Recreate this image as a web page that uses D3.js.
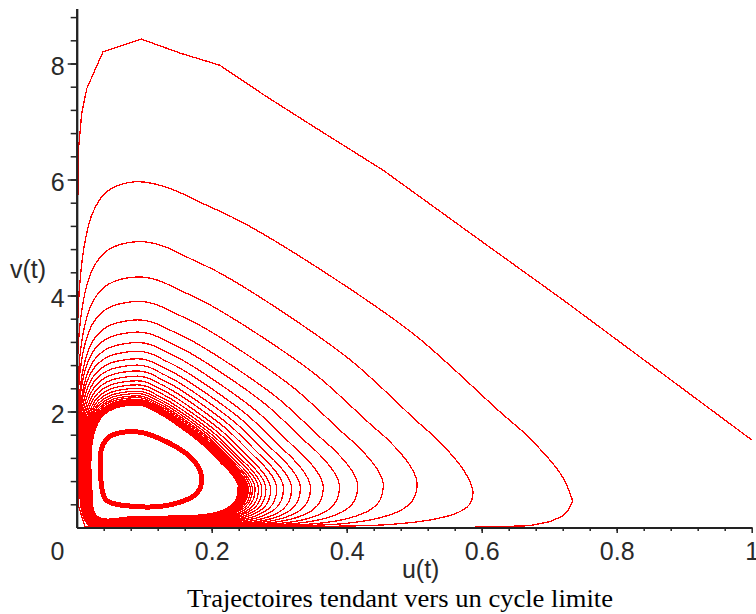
<!DOCTYPE html>
<html lang="fr">
<head>
<meta charset="UTF-8">
<title>Trajectoires tendant vers un cycle limite</title>
<script src="https://d3js.org/d3.v7.min.js"></script>
<style>
    body{ margin:0; background:#fff; }
    svg{ display:block; }
    .tick text, .lbl{
        font-family: 'Liberation Sans', Arial, sans-serif;
        font-size: 25px;
        fill: #2a2a2a;
    }
    .title{
        font-family: 'Liberation Serif', 'Times New Roman', serif;
        font-size: 26px;
        fill: #000;
    }
    .traj{ fill:none; stroke:#ff0000; shape-rendering:crispEdges; }
</style>
</head>
<body>
<svg width="756" height="614"></svg>
<script>
    const W = 756;

    // axis ticks and labels
    const xMajor = [0.2, 0.4, 0.6, 0.8, 1];
    const yMajor = [2, 4, 6, 8];
    const originLabel = "0";
    const xTitle = "u(t)", yTitle = "v(t)";
    const caption = "Trajectoires tendant vers un cycle limite";

    // first turn of the outer trajectory, [u, v] read point by point
    const turn1 = [[1.0,1.51],[0.86,2.72],[0.721,3.92],[0.58,5.10],[0.454,6.16],[0.35,6.92],
        [0.281,7.43],[0.212,7.97],[0.153,8.18],[0.096,8.42],[0.039,8.20],[0.015,7.57],
        [0.0074,7.14],[0.0024,6.48],[0.0015,5.5],[0.0015,3.5],[0.0015,1.5],[0.002,0.4],
        [0.012,0.02],[0.1,0.006],[0.3,0.005],[0.59,0.006],[0.67,0.03],[0.701,0.1],
        [0.72,0.2],[0.728,0.30],[0.735,0.45]];

    // following turns: top of each turn, the point where it turns back on the right,
    // and how close it gets to each axis
    const topV = [5.96,4.93,4.32,3.90,3.58,3.37,3.19,3.04,2.91,2.80,2.70,2.61,2.53,2.46,2.40,2.35,
        2.31,2.27,2.24,2.21,2.19,2.175,2.16,2.15,2.14,2.133,2.127,2.122,2.118,2.114,2.111];
    const topU = [0.085,0.09,0.09,0.09,0.09,0.09,0.09,0.09,0.09,0.09,0.09,0.09,0.09,0.09,0.09,0.09,
        0.09,0.09,0.09,0.09,0.09,0.09,0.09,0.09,0.09,0.09,0.09,0.09,0.09,0.09,0.09];
    const rightU = [0.587,0.504,0.454,0.416,0.389,0.365,0.346,0.331,0.318,0.306,0.296,0.287,0.280,
        0.274,0.269,0.264,0.260,0.257,0.254,0.252,0.250,0.248,0.247,0.246,0.245,0.244,0.243,
        0.242,0.241,0.240,0.239];
    const rightV = [0.62,0.79,0.76,0.75,0.74,0.73,0.72,0.72,0.71,0.71,0.71,0.70,0.70,0.70,0.70,0.70,
        0.70,0.70,0.70,0.70,0.70,0.70,0.70,0.70,0.70,0.70,0.70,0.70,0.70,0.70,0.70];
    const leftU = [0.002,0.002,0.003,0.003,0.004,0.004,0.005,0.005,0.006,0.007,0.008,0.009,0.010,
        0.011,0.012,0.013,0.014,0.015,0.016,0.017,0.018,0.018,0.019,0.019,0.020,0.020,0.021,
        0.021,0.021,0.022,0.022];
    const bottomV = [0.005,0.01,0.015,0.02,0.025,0.03,0.035,0.04,0.05,0.06,0.07,0.08,0.09,0.10,
        0.11,0.12,0.13,0.14,0.15,0.155,0.16,0.165,0.17,0.175,0.178,0.181,0.184,0.186,0.188,
        0.189,0.19];

    // shape of one turn (fractions of the turn's extent)
    const upperLeg = [[0.975,0.08],[0.9,0.2],[0.834,0.28],[0.645,0.515],[0.492,0.665],
        [0.254,0.868],[0.16,0.93],[0.07,0.985]];
    const shoulder = [[0.5,0.97],[0.26,0.91],[0.14,0.84],[0.05,0.74],[0,0.62],[0,0.3]];
    const floor = [[0.04,0],[0.3,0],[0.6,0.02],[0.78,0.07],[0.89,0.2],[0.96,0.4],[0.99,0.62],[1,1]];

    // inner trajectory, already on the limit cycle
    const cycle = [[0.089,1.65],[0.138,1.45],[0.173,1.16],[0.185,0.876],[0.178,0.59],[0.138,0.39],
        [0.089,0.36],[0.044,0.47],[0.037,0.70],[0.0356,1.05],[0.037,1.37],[0.049,1.57]];

    const x = d3.scaleLinear().domain([0, 1]).range([76.7, 751.7]);
    const y = d3.scaleLinear().domain([0, 8.95]).range([527.5, 8.4]);

    // build the spiral from the turns
    const spiral = [turn1[turn1.length - 1]];
    let prev = spiral[0];
    topV.forEach((T, i) => {
        const ut = topU[i], L = leftU[i], B = bottomV[i];
        upperLeg.forEach(([a, b]) => spiral.push([ut + a*(prev[0]-ut), prev[1] + b*(T-prev[1])]));
        spiral.push([ut, T]);
        shoulder.forEach(([c, d]) => spiral.push([L + c*(ut-L), B + d*(T-B)]));
        floor.forEach(([e, f]) => spiral.push([L + e*(rightU[i]-L), B + f*(rightV[i]-B)]));
        prev = [rightU[i], rightV[i]];
    });

    const svg = d3.select("svg");
    svg.append("defs").append("clipPath").attr("id", "clip")
        .append("rect")
        .attr("x", x(0)).attr("y", 0)
        .attr("width", W - x(0)).attr("height", y(0));

    const plot = svg.append("g").attr("clip-path", "url(#clip)");
    const line = d3.line().x(d => x(d[0])).y(d => y(d[1]));

    plot.append("path").attr("class", "traj")
        .datum(turn1)
        .attr("d", line.curve(d3.curveLinear))
        .attr("stroke-width", 1.3);

    plot.append("path").attr("class", "traj")
        .datum(spiral)
        .attr("d", line.curve(d3.curveCatmullRom.alpha(0.5)))
        .attr("stroke-width", 1.3);

    plot.append("path").attr("class", "traj")
        .datum(cycle)
        .attr("d", line.curve(d3.curveCatmullRomClosed.alpha(0.5)))
        .attr("stroke-width", 5);

    // axes
    const xG = svg.append("g").attr("transform", `translate(0,${y(0)})`);
    xG.call(d3.axisBottom(x).tickValues(d3.range(0.04, 0.99, 0.04)).tickSize(3.5).tickSizeOuter(0).tickFormat(""));
    xG.append("g").call(d3.axisBottom(x).tickValues(xMajor).tickSize(5.5).tickSizeOuter(0).tickFormat(d3.format("~g")));
    xG.selectAll("text").attr("y", 32.5).attr("dy", 0);

    const yG = svg.append("g").attr("transform", `translate(${x(0)},0)`);
    yG.call(d3.axisLeft(y).tickValues(d3.range(0.4, 8.9, 0.4)).tickSize(6).tickSizeOuter(0).tickFormat(""));
    yG.append("g").call(d3.axisLeft(y).tickValues(yMajor).tickSize(9).tickSizeOuter(0).tickFormat(d3.format("~g")));
    yG.selectAll("text").attr("x", -12).attr("dy", "0.42em");

    svg.selectAll(".domain").attr("stroke", "#222").attr("stroke-width", 2);
    svg.selectAll(".tick line").attr("stroke", "#222").attr("stroke-width", 1.5);

    svg.append("text").attr("class", "lbl")
        .attr("x", 57.5).attr("y", 560).attr("text-anchor", "middle").text(originLabel);
    svg.append("text").attr("class", "lbl")
        .attr("x", 10).attr("y", 278).text(yTitle);
    svg.append("text").attr("class", "lbl")
        .attr("x", 420.7).attr("y", 578).attr("text-anchor", "middle").text(xTitle);
    svg.append("text").attr("class", "title")
        .attr("x", 400).attr("y", 607).attr("text-anchor", "middle")
        .attr("textLength", 426).attr("lengthAdjust", "spacingAndGlyphs")
        .text(caption);
</script>
</body>
</html>
